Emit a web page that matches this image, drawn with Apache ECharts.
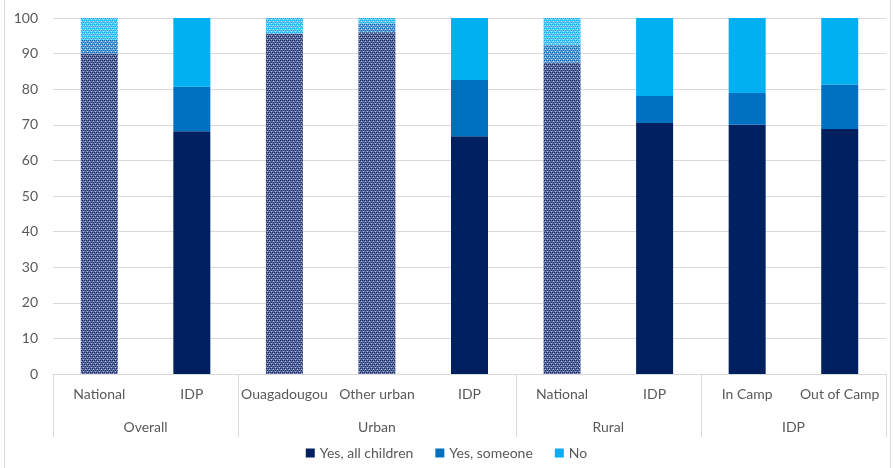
<!DOCTYPE html>
<html>
<head>
<meta charset="utf-8">
<script src="https://cdn.jsdelivr.net/npm/echarts@6/dist/echarts.min.js"></script>
<style>
html,body{margin:0;padding:0;background:#fff;}
#chart{width:893px;height:468px;}
</style>
</head>
<body>
<div id="chart"></div>
<script>
// ---- Data ----
var categories = ['National', 'IDP', 'Ouagadougou', 'Other urban', 'IDP', 'National', 'IDP', 'In Camp', 'Out of Camp'];
var groupNames = ['Overall', 'Urban', 'Rural', 'IDP'];
var groupSizes = [2, 3, 2, 2];
var seriesNames = ['Yes, all children', 'Yes, someone', 'No'];
var yesAllChildren = [90.0, 68.2, 95.5, 96.0, 66.8, 87.5, 70.5, 70.0, 68.8];
var yesSomeone = [3.8, 12.5, 0.2, 2.5, 15.8, 5.0, 7.6, 8.9, 12.5];
var no = [6.2, 19.3, 4.3, 1.5, 17.4, 7.5, 21.9, 21.1, 18.7];
var patterned = [true, false, true, true, false, true, false, false, false];
var yTicks = [0, 10, 20, 30, 40, 50, 60, 70, 80, 90, 100];

// ---- Styles ----
var colors = ['#002060', '#0070C0', '#00B0F0'];
var font = 'Lato, "Open Sans", sans-serif';
var textColor = '#595959';
var lineColor = '#D9D9D9';

function makePattern(color, mid, light) {
  var c = document.createElement('canvas');
  c.width = 4; c.height = 4;
  var ctx = c.getContext('2d');
  ctx.fillStyle = mid; ctx.fillRect(0, 0, 4, 4);
  ctx.fillStyle = color;
  ctx.fillRect(0, 0, 1, 1); ctx.fillRect(2, 0, 1, 1);
  ctx.fillRect(1, 2, 1, 1); ctx.fillRect(3, 2, 1, 1);
  ctx.fillStyle = light;
  ctx.fillRect(1, 1, 1, 1); ctx.fillRect(3, 3, 1, 1);
  return {image: c, repeat: 'repeat'};
}
var patterns = [
  makePattern('#17296a', '#5d6d9e', '#b4bfdc'),
  makePattern('#0a6fbf', '#5d9fd5', '#c0dcf1'),
  makePattern('#0aaeee', '#5ccbf4', '#c2ecfb')
];

// second-level axis: 2 slots per category, boundary-gap false
var slotCount = categories.length * 2 + 1;
var groupAxisData = [];
for (var i = 0; i < slotCount; i++) groupAxisData.push('');
var boundaries = {0: true};
var acc = 0;
for (var g = 0; g < groupNames.length; g++) {
  var center = (acc + groupSizes[g] / 2) * 2;
  groupAxisData[Math.round(center)] = groupNames[g];
  acc += groupSizes[g];
  boundaries[acc * 2] = true;
}

var valueArrays = [yesAllChildren, yesSomeone, no];
var series = valueArrays.map(function (arr, s) {
  return {
    name: seriesNames[s],
    type: 'bar',
    stack: 'total',
    barWidth: 37,
    itemStyle: {color: colors[s]},
    data: arr.map(function (v, i) {
      return patterned[i] ? {value: v, itemStyle: {color: patterns[s]}} : v;
    })
  };
});

var chart = echarts.init(document.getElementById('chart'), null, {renderer: 'canvas'});
chart.setOption({
  animation: false,
  backgroundColor: '#fff',
  grid: {left: 53, right: 7, top: 18, bottom: 94, containLabel: false},
  legend: {
    bottom: 3,
    left: 'center',
    icon: 'rect',
    itemWidth: 9,
    itemHeight: 9,
    itemGap: 22,
    textStyle: {fontFamily: font, fontSize: 14, color: textColor},
    data: seriesNames
  },
  xAxis: [
    {
      type: 'category',
      data: categories,
      axisLine: {show: true, lineStyle: {color: lineColor, width: 1}},
      axisTick: {show: false},
      axisLabel: {interval: 0, margin: 13, fontFamily: font, fontSize: 14, color: textColor}
    },
    {
      type: 'category',
      position: 'bottom',
      offset: 0,
      boundaryGap: false,
      data: groupAxisData,
      axisLine: {show: false},
      axisTick: {
        show: true,
        length: 63,
        interval: function (idx) { return !!boundaries[idx]; },
        lineStyle: {color: lineColor, width: 1}
      },
      axisLabel: {
        interval: 0, margin: 46, fontFamily: font, fontSize: 14, color: textColor
      },
      splitLine: {show: false}
    }
  ],
  yAxis: {
    type: 'value',
    min: yTicks[0],
    max: yTicks[yTicks.length - 1],
    interval: yTicks[1] - yTicks[0],
    axisLine: {show: false},
    axisTick: {show: false},
    axisLabel: {margin: 15, fontFamily: font, fontSize: 14, color: textColor},
    splitLine: {lineStyle: {color: lineColor, width: 1}}
  },
  graphic: [
    {type: 'line', shape: {x1: 4.5, y1: 0, x2: 4.5, y2: 468}, style: {stroke: lineColor, lineWidth: 1}, silent: true},
    {type: 'line', shape: {x1: 890.5, y1: 0, x2: 890.5, y2: 468}, style: {stroke: lineColor, lineWidth: 1}, silent: true}
  ],
  series: series
});
</script>
</body>
</html>
